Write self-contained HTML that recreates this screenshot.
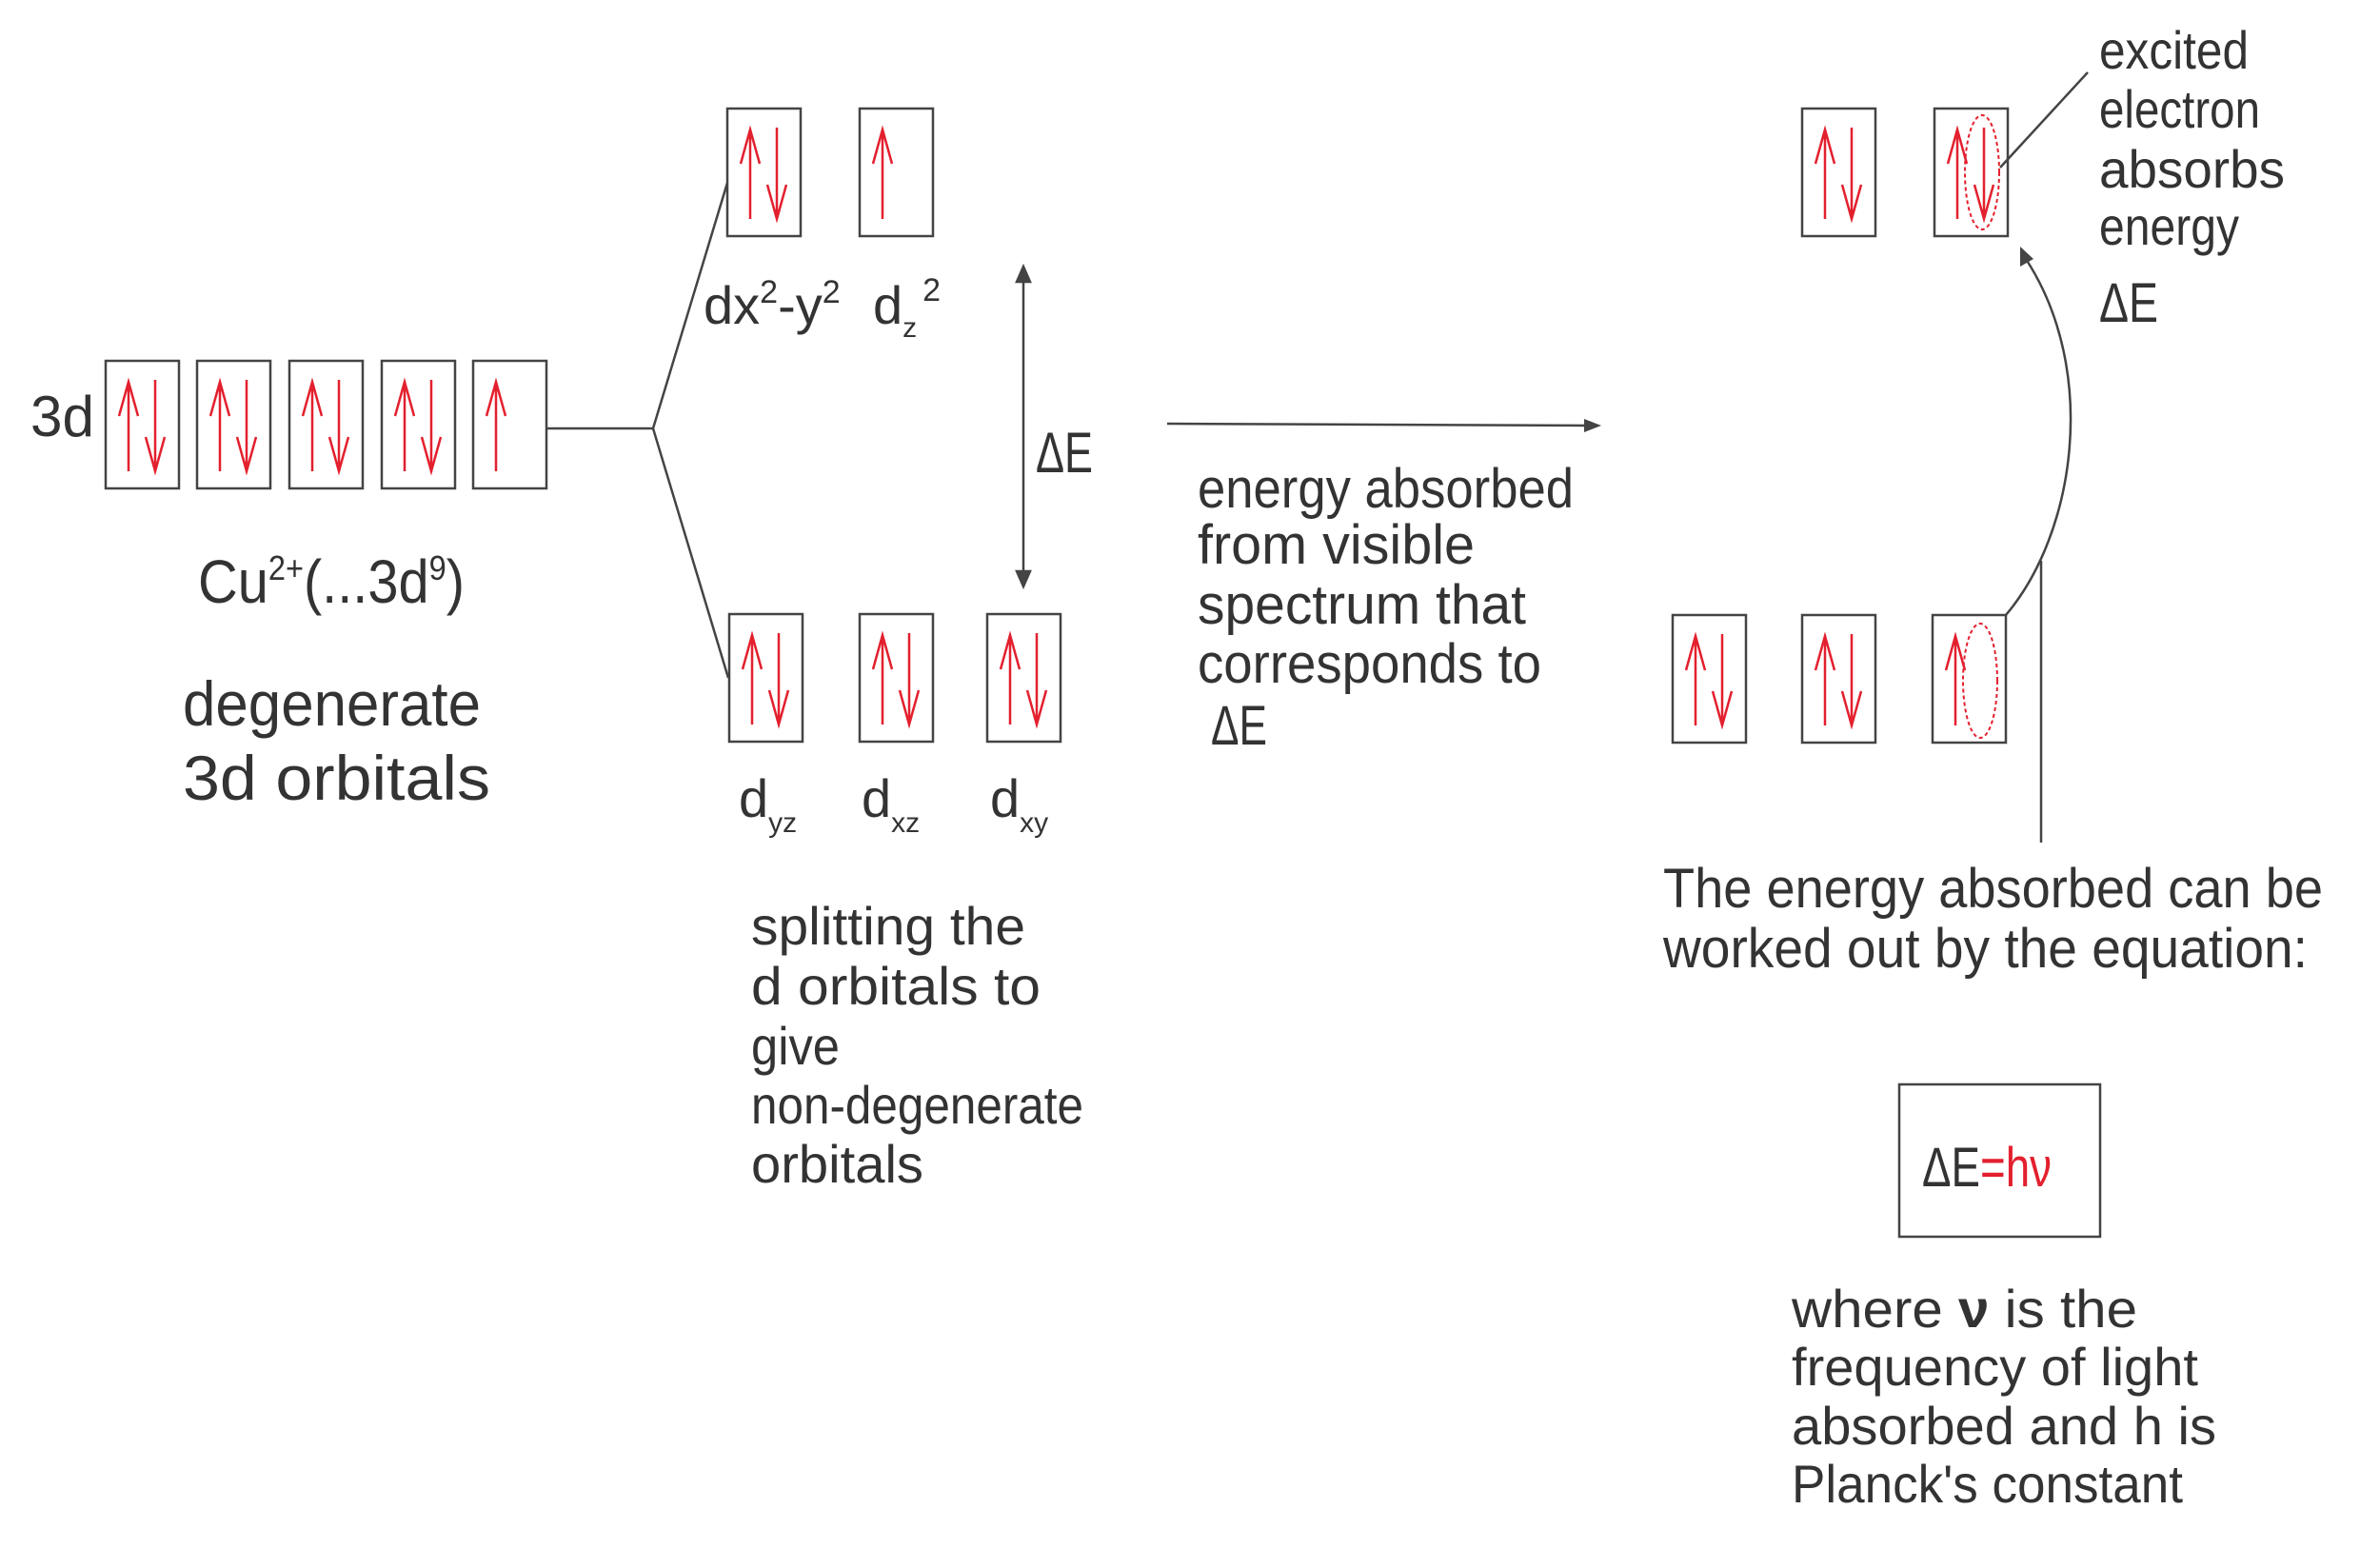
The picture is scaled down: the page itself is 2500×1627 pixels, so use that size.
<!DOCTYPE html>
<html><head><meta charset="utf-8"><style>
html,body{margin:0;padding:0;background:#fff;}
svg{display:block;}
text{font-family:"Liberation Sans","DejaVu Sans",sans-serif;fill:#333;}
</style></head><body>
<svg width="2500" height="1627" viewBox="0 0 2500 1627" xmlns="http://www.w3.org/2000/svg">
<defs>
<g id="pair">
<rect x="0" y="0" width="77" height="134" fill="none" stroke="#444" stroke-width="2.5"/>
<g stroke="#e3202e" stroke-width="2.5" fill="none">
<path d="M24,116 L24,22 M14,58 L24,22 L34,58"/>
<path d="M52,20 L52,116 M42,80 L52,116 L62,80"/>
</g>
</g>
<g id="single">
<rect x="0" y="0" width="77" height="134" fill="none" stroke="#444" stroke-width="2.5"/>
<g stroke="#e3202e" stroke-width="2.5" fill="none">
<path d="M24,116 L24,22 M14,58 L24,22 L34,58"/>
</g>
</g>
</defs>

<!-- 3d boxes -->
<use href="#pair" x="111" y="379"/>
<use href="#pair" x="207" y="379"/>
<use href="#pair" x="304" y="379"/>
<use href="#pair" x="401" y="379"/>
<use href="#single" x="497" y="379"/>
<text x="32" y="458" font-size="60" textLength="67" lengthAdjust="spacingAndGlyphs">3d</text>

<!-- splitting lines -->
<g stroke="#444" stroke-width="2.5" fill="none">
<path d="M574,450 L686,450"/>
<path d="M686,450 L764,192"/>
<path d="M686,450 L765,712"/>
</g>

<!-- upper boxes -->
<use href="#pair" x="764" y="114"/>
<use href="#single" x="903" y="114"/>
<text x="739" y="340" font-size="56">dx<tspan font-size="34" dy="-22">2</tspan><tspan dy="22">-y</tspan><tspan font-size="34" dy="-22">2</tspan></text>
<text x="917" y="340" font-size="56">d<tspan font-size="30" dy="14">z</tspan><tspan font-size="34" dy="-38" dx="6">2</tspan></text>

<!-- lower boxes -->
<use href="#pair" x="766" y="645"/>
<use href="#pair" x="903" y="645"/>
<use href="#pair" x="1037" y="645"/>
<text x="776" y="858" font-size="56">d<tspan font-size="30" dy="16">yz</tspan></text>
<text x="905" y="858" font-size="56">d<tspan font-size="30" dy="16">xz</tspan></text>
<text x="1040" y="858" font-size="56">d<tspan font-size="30" dy="16">xy</tspan></text>

<!-- delta E double arrow -->
<g stroke="#444" stroke-width="2.5" fill="#444">
<path d="M1075,292 L1075,604" fill="none"/>
<path d="M1075,280 L1068,296 L1082,296 Z"/>
<path d="M1075,616 L1068,600 L1082,600 Z"/>
</g>
<text x="1088" y="496" font-size="60" textLength="60" lengthAdjust="spacingAndGlyphs">ΔE</text>

<!-- left texts -->
<text x="208" y="633" font-size="64" textLength="280" lengthAdjust="spacingAndGlyphs">Cu<tspan font-size="36" dy="-24">2+</tspan><tspan dy="24">(...3d</tspan><tspan font-size="36" dy="-24">9</tspan><tspan dy="24">)</tspan></text>
<text x="192" y="762" font-size="66" textLength="313" lengthAdjust="spacingAndGlyphs">degenerate</text>
<text x="192" y="840" font-size="66" textLength="323" lengthAdjust="spacingAndGlyphs">3d orbitals</text>

<text x="789" y="992" font-size="56" textLength="288" lengthAdjust="spacingAndGlyphs">splitting the</text>
<text x="789" y="1055" font-size="56" textLength="304" lengthAdjust="spacingAndGlyphs">d orbitals to</text>
<text x="789" y="1118" font-size="56" textLength="93" lengthAdjust="spacingAndGlyphs">give</text>
<text x="789" y="1180" font-size="56" textLength="349" lengthAdjust="spacingAndGlyphs">non-degenerate</text>
<text x="789" y="1242" font-size="56" textLength="181" lengthAdjust="spacingAndGlyphs">orbitals</text>

<!-- horizontal arrow -->
<path d="M1226,445 L1670,447" stroke="#444" stroke-width="2.5" fill="none"/>
<path d="M1682,447 L1664,440 L1664,454 Z" fill="#444"/>

<text x="1258" y="533" font-size="58" textLength="395" lengthAdjust="spacingAndGlyphs">energy absorbed</text>
<text x="1258" y="592" font-size="58" textLength="291" lengthAdjust="spacingAndGlyphs">from visible</text>
<text x="1258" y="655" font-size="58" textLength="345" lengthAdjust="spacingAndGlyphs">spectrum that</text>
<text x="1258" y="717" font-size="58" textLength="361" lengthAdjust="spacingAndGlyphs">corresponds to</text>
<text x="1272" y="782" font-size="58" textLength="59" lengthAdjust="spacingAndGlyphs">ΔE</text>

<!-- right boxes -->
<use href="#pair" x="1893" y="114"/>
<use href="#pair" x="2032" y="114"/>
<use href="#pair" x="1757" y="646"/>
<use href="#pair" x="1893" y="646"/>
<use href="#single" x="2030" y="646"/>
<ellipse cx="2082" cy="181" rx="18" ry="60" fill="none" stroke="#e3202e" stroke-width="2" stroke-dasharray="4,3"/>
<ellipse cx="2080" cy="715" rx="18" ry="60" fill="none" stroke="#e3202e" stroke-width="2" stroke-dasharray="4,3"/>

<!-- curved arrow -->
<path d="M2107,646 C2180,560 2205,390 2128,272" stroke="#444" stroke-width="2.5" fill="none"/>
<path d="M2122,259 L2122,280 L2136,272 Z" fill="#444"/>
<path d="M2144,589 L2144,885" stroke="#444" stroke-width="2.5"/>
<path d="M2193,76 L2101,176" stroke="#444" stroke-width="2.5"/>

<text x="2205" y="72" font-size="56" textLength="157" lengthAdjust="spacingAndGlyphs">excited</text>
<text x="2205" y="134" font-size="56" textLength="169" lengthAdjust="spacingAndGlyphs">electron</text>
<text x="2205" y="197" font-size="56" textLength="195" lengthAdjust="spacingAndGlyphs">absorbs</text>
<text x="2205" y="257" font-size="56" textLength="147" lengthAdjust="spacingAndGlyphs">energy</text>
<text x="2205" y="338" font-size="58" textLength="62" lengthAdjust="spacingAndGlyphs">ΔE</text>

<text x="1747" y="953" font-size="58" textLength="693" lengthAdjust="spacingAndGlyphs">The energy absorbed can be</text>
<text x="1747" y="1016" font-size="58" textLength="677" lengthAdjust="spacingAndGlyphs">worked out by the equation:</text>

<rect x="1995" y="1139" width="211" height="160" fill="none" stroke="#444" stroke-width="2.5"/>
<text x="2019" y="1246" font-size="58" textLength="136" lengthAdjust="spacingAndGlyphs">ΔE<tspan fill="#e3202e" style="fill:#e3202e">=hν</tspan></text>

<text x="1882" y="1394" font-size="56" textLength="363" lengthAdjust="spacingAndGlyphs">where <tspan font-weight="bold">ν</tspan> is the</text>
<text x="1882" y="1455" font-size="56" textLength="427" lengthAdjust="spacingAndGlyphs">frequency of light</text>
<text x="1882" y="1517" font-size="56" textLength="446" lengthAdjust="spacingAndGlyphs">absorbed and h is</text>
<text x="1882" y="1578" font-size="56" textLength="411" lengthAdjust="spacingAndGlyphs">Planck's constant</text>
</svg>
</body></html>
